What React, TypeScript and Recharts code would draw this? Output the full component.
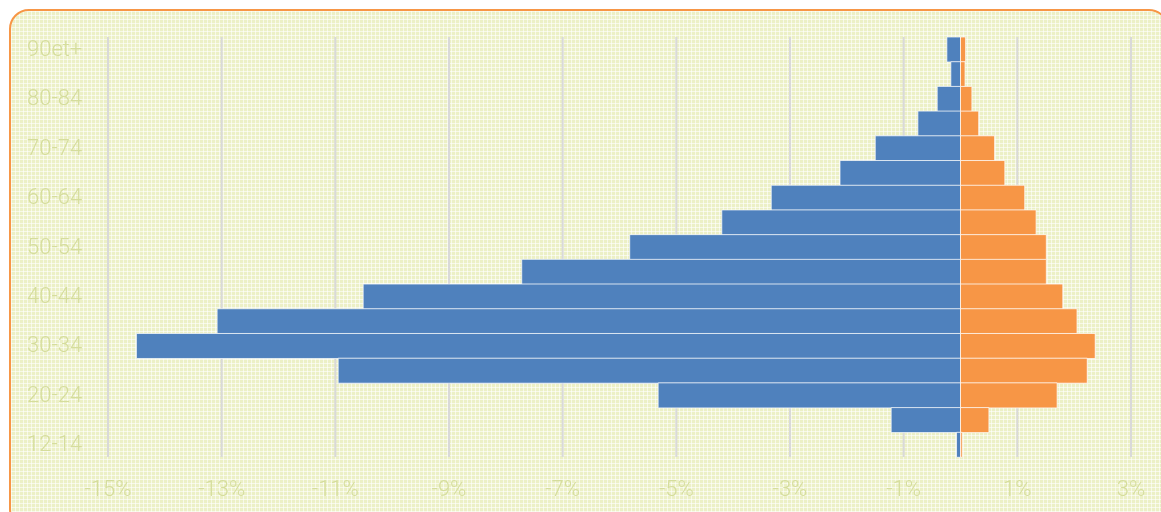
import { BarChart, Bar, XAxis, YAxis, CartesianGrid } from "recharts";

const ageGroups = [
  "90et+", "85-89", "80-84", "75-79", "70-74", "65-69", "60-64", "55-59",
  "50-54", "45-49", "40-44", "35-39", "30-34", "25-29", "20-24", "15-19", "12-14",
];
const menShare = [
  -0.24, -0.17, -0.41, -0.75, -1.5, -2.12, -3.33, -4.2,
  -5.82, -7.72, -10.51, -13.08, -14.5, -10.95, -5.32, -1.22, -0.07,
];
const womenShare = [
  0.09, 0.08, 0.2, 0.32, 0.6, 0.78, 1.13, 1.33,
  1.51, 1.51, 1.8, 2.05, 2.37, 2.23, 1.7, 0.5, 0.03,
];
const xTicks = [-15, -13, -11, -9, -7, -5, -3, -1, 1, 3];

const data = ageGroups.map((age, i) => ({
  age,
  men: menShare[i],
  women: womenShare[i],
}));

const labelColor = "#d5dd9c";
const labelFont = { fontFamily: "Roboto", fontWeight: 300, fontSize: 22 };

const YTick = ({ y, payload }: any) => (
  <text x={27} y={y} dy={-1} textAnchor="start" dominantBaseline="central" fill={labelColor} style={labelFont}>
    {payload.value}
  </text>
);

const XTick = ({ x, y, payload }: any) => (
  <text x={x} y={y} dy={23} textAnchor="middle" dominantBaseline="central" fill={labelColor} style={labelFont}>
    {`${payload.value}%`}
  </text>
);

export default function App() {
  return (
    <div style={{ position: "fixed", left: 0, top: 0, width: 1161, height: 512, overflow: "hidden" }}>
      <div
        style={{
          position: "absolute",
          left: 9,
          top: 9,
          width: 1160,
          height: 520,
          boxSizing: "border-box",
          border: "2px solid #f79646",
          borderRadius: 20,
          backgroundColor: "#ecf0c6",
          backgroundImage:
            "linear-gradient(rgba(255,255,255,0.6) 1px, transparent 1px), linear-gradient(90deg, rgba(255,255,255,0.6) 1px, transparent 1px)",
          backgroundSize: "4px 4px",
        }}
      />
      <div style={{ position: "absolute", left: 0, top: 0 }}>
        <BarChart
          width={1161}
          height={512}
          data={data}
          layout="vertical"
          stackOffset="sign"
          barCategoryGap={0}
          margin={{ top: 37, right: 30, bottom: 25, left: 28 }}
        >
          <CartesianGrid horizontal={false} stroke="#d9d9d9" strokeWidth={2} />
          <XAxis
            type="number"
            domain={[-15, 3]}
            ticks={xTicks}
            allowDataOverflow
            axisLine={false}
            tickLine={false}
            height={30}
            tick={<XTick />}
            interval={0}
          />
          <YAxis
            type="category"
            dataKey="age"
            width={80}
            axisLine={false}
            tickLine={false}
            interval={1}
            tick={<YTick />}
          />
          <Bar dataKey="men" stackId="a" fill="#4f81bd" stroke="#ffffff" strokeOpacity={0.7} strokeWidth={1} isAnimationActive={false} />
          <Bar dataKey="women" stackId="a" fill="#f79646" stroke="#ffffff" strokeOpacity={0.7} strokeWidth={1} isAnimationActive={false} />
        </BarChart>
      </div>
    </div>
  );
}
